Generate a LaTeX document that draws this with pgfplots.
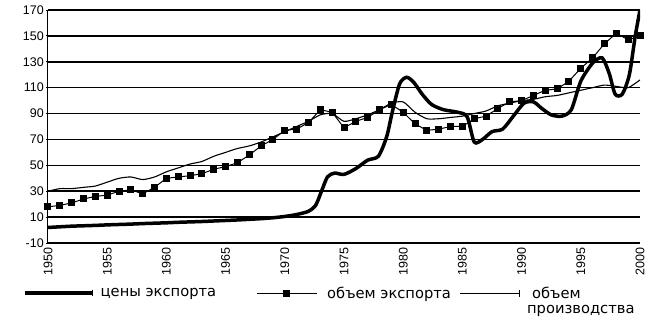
\documentclass[border=0pt]{standalone}
\usepackage{fontspec}
\setmainfont{Liberation Sans}
\newfontfamily\legfont{DejaVu Sans}
\usepackage{pgfplots}
\pgfplotsset{compat=1.18}
\pgfplotsset{
  pricelegend/.style={legend image code/.code={\draw[##1] (0pt,0pt) -- (67pt,0pt); \draw[black, line width=0.8pt] (67pt,-3pt) -- (67pt,3pt);}},
  volumelegend/.style={legend image code/.code={\draw[##1, mark repeat=2, mark phase=2] plot coordinates {(0pt,0pt) (30pt,0pt) (60pt,0pt)};}},
  prodlegend/.style={legend image code/.code={\draw[##1] (0pt,0pt) -- (60pt,0pt); \draw[##1] (60pt,-3.5pt) -- (60pt,3.5pt);}},
}
\begin{document}
\begin{tikzpicture}
\path[use as bounding box] (-48pt,-83pt) rectangle (623pt,243pt);
\begin{axis}[
  scale only axis,
  width=592pt, height=233pt,
  xmin=1950, xmax=2000,
  ymin=-10, ymax=170,
  ytick={-10,10,...,170},
  xtick={1950,1955,...,2000},
  axis x line=bottom, axis y line=left,
  axis line style={-, black, line width=1pt},
  ymajorgrids,
  grid style={black, line width=1.5pt},
  major tick length=4pt,
  tick style={black, line width=0.8pt},
  xtick style={draw=none},
  /pgf/number format/1000 sep={},
  /pgf/number format/assume math mode=true,
  tick label style={font=\fontsize{12.5}{14}\selectfont},
  x tick label style={rotate=90, anchor=east, inner sep=2pt},
  y tick label style={inner sep=2pt},
  legend style={at={(-0.0422,-0.178)}, anchor=north west, draw=none, fill=none,
    legend columns=3, font=\legfont\fontsize{14.7}{16}\selectfont,
    column sep=0pt, inner sep=0pt,
    nodes={inner xsep=0pt},
    cells={anchor=west}},
]
% цены экспорта (thick)
\addplot[black, line width=3.5pt, smooth, tension=0.45, mark=none, pricelegend] coordinates {
(1950,2) (1951,2.5) (1952,3) (1953,3.3) (1954,3.6) (1955,4) (1956,4.3) (1957,4.6)
(1958,5) (1959,5.3) (1960,5.6) (1961,6) (1962,6.3) (1963,6.6) (1964,7) (1965,7.4)
(1966,7.8) (1967,8.3) (1968,8.8) (1969,9.5) (1970,10.5) (1971,12) (1972,14.5)
(1972.6,19) (1973.1,30) (1973.6,41) (1974.2,44) (1975,43) (1976,47.5) (1977,54)
(1977.9,57) (1978.6,72) (1979.1,92) (1979.7,113) (1980.3,118) (1980.9,114)
(1981.6,105) (1982.4,97) (1983.4,93) (1984.6,91) (1985.4,87.5) (1986,68)
(1986.7,70) (1987.5,76) (1988.4,78) (1989.3,88) (1990.2,98) (1991,99)
(1991.7,94) (1992.5,89) (1993.4,88) (1994.2,93) (1995,115) (1996,129)
(1996.8,133) (1997.4,121) (1997.9,105) (1998.5,105) (1999.1,120) (1999.6,150) (2000,170)
};
\addlegendentry{\hspace{7pt}цены экспорта\rule{40pt}{0pt}}
% объем экспорта (squares)
\addplot[black, line width=1pt, mark=square*, mark size=3pt, mark options={solid}, volumelegend] coordinates {
(1950,18) (1951,19) (1952,21) (1953,24) (1954,26) (1955,27) (1956,30) (1957,31)
(1958,28) (1959,33) (1960,40) (1961,41) (1962,42) (1963,43.5) (1964,47) (1965,49)
(1966,52) (1967,58) (1968,65) (1969,70) (1970,77) (1971,78) (1972,83) (1973,93)
(1974,91) (1975,79) (1976,84) (1977,87) (1978,93) (1979,97) (1980,91) (1981,82)
(1982,77) (1983,78) (1984,80) (1985,80) (1986,86) (1987,88) (1988,94) (1989,99)
(1990,100) (1991,104) (1992,108) (1993,109) (1994,115) (1995,125) (1996,133)
(1997,144) (1998,152) (1999,147) (2000,150)
};
\addlegendentry{\hspace{10pt}объем экспорта\rule{8pt}{0pt}}
% объем производства (thin)
\addplot[black, line width=1.1pt, smooth, tension=0.4, mark=none, prodlegend] coordinates {
(1950,30) (1951,32) (1952,32) (1953,33) (1954,34) (1955,37) (1956,40) (1957,41)
(1958,39) (1959,41) (1960,45) (1961,48) (1962,51) (1963,53) (1964,57) (1965,60)
(1966,63) (1967,65) (1968,68) (1969,72) (1970,76) (1971,80) (1972,84) (1973,89)
(1974,90) (1975,84) (1976,86) (1977,89) (1978,93) (1979,98) (1980,99) (1981,91)
(1982,86) (1983,86) (1984,87) (1985,88) (1986,90) (1987,92) (1988,96) (1989,98)
(1990,100) (1991,101) (1992,103) (1993,104) (1994,106) (1995,108) (1996,110)
(1997,112) (1998,111) (1999,110) (2000,116)
};
\addlegendentry{\hspace{12pt}\makebox[0pt][l]{\raisebox{-15pt}[0pt][0pt]{\hspace{-5pt}производства}}объем}
\end{axis}
\end{tikzpicture}
\end{document}
